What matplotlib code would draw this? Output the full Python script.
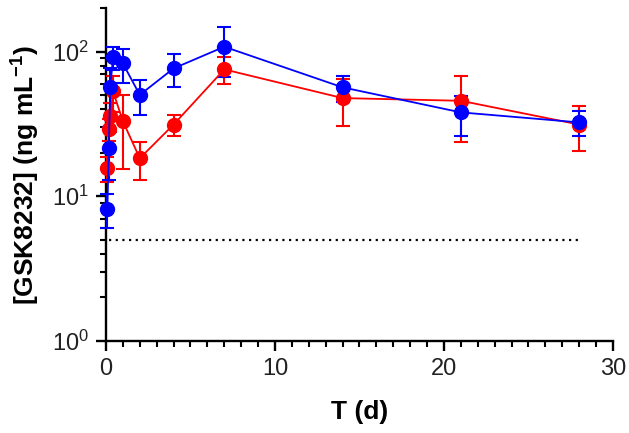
import matplotlib
matplotlib.use("Agg")
import matplotlib.pyplot as plt
from matplotlib.ticker import LogLocator, MultipleLocator, FixedLocator

plt.rcParams['font.family'] = ['Liberation Sans', 'DejaVu Sans']
plt.rcParams['mathtext.fontset'] = 'custom'
plt.rcParams['mathtext.rm'] = 'Liberation Sans'
plt.rcParams['mathtext.bf'] = 'Liberation Sans:bold'

# Data
t_blue = [0.083, 0.167, 0.25, 0.42, 1, 2, 4, 7, 14, 21, 28]
conc_blue = [8.2, 21.4, 56.6, 91, 82.8, 50.2, 76.5, 108, 56.6, 38, 32.4]
sd_blue = [2.2, 8.5, 21, 17, 22, 13.5, 20, 41, 11.5, 11.7, 6.3]

t_red = [0.083, 0.167, 0.25, 0.42, 1, 2, 4, 7, 14, 21, 28]
conc_red = [15.6, 29, 36, 53, 33, 18.3, 31.3, 75.3, 47.7, 45.7, 31.3]
sd_red = [3, 5, 8, 15, 17.5, 5.4, 5.3, 16, 17, 22, 10.6]

lloq = 5
lloq_span = [0.2, 28]

x_major = [0, 10, 20, 30]

fig = plt.figure(figsize=(6.29, 4.33), dpi=100)
ax = fig.add_axes([0.1685, 0.2125, 0.806, 0.769])

for t, c, s, col in [(t_red, conc_red, sd_red, '#ff0000'),
                     (t_blue, conc_blue, sd_blue, '#0000ff')]:
    ax.errorbar(t, c, yerr=s, color=col, marker='o', markersize=10,
                linewidth=1.3, elinewidth=1.5, capsize=5, capthick=1.5,
                clip_on=False, zorder=3)

ax.plot(lloq_span, [lloq, lloq], color='black', linestyle=(0, (1, 2)),
        linewidth=1.6, zorder=2)

ax.set_yscale('log')
ax.set_ylim(1, 200)
ax.set_xlim(0, 30)

ax.xaxis.set_major_locator(FixedLocator(x_major))
ax.xaxis.set_minor_locator(MultipleLocator(1))
ax.yaxis.set_major_locator(LogLocator(base=10, numticks=10))
ax.yaxis.set_minor_locator(LogLocator(base=10, subs=range(2, 10), numticks=20))

for side in ['top', 'right']:
    ax.spines[side].set_visible(False)
for side in ['left', 'bottom']:
    ax.spines[side].set_linewidth(1.7)

ax.tick_params(which='major', length=7, width=1.7, labelsize=17,
               labelcolor='#222222', pad=5)
ax.tick_params(which='minor', length=4.5, width=1.5)

ax.set_xlabel('T (d)', fontsize=19, fontweight='bold', labelpad=15)
ax.set_ylabel(r'[GSK8232] (ng mL$^{\mathbf{-1}}$)', fontsize=19,
              fontweight='bold', labelpad=8)

fig.savefig('out.png', dpi=100)
